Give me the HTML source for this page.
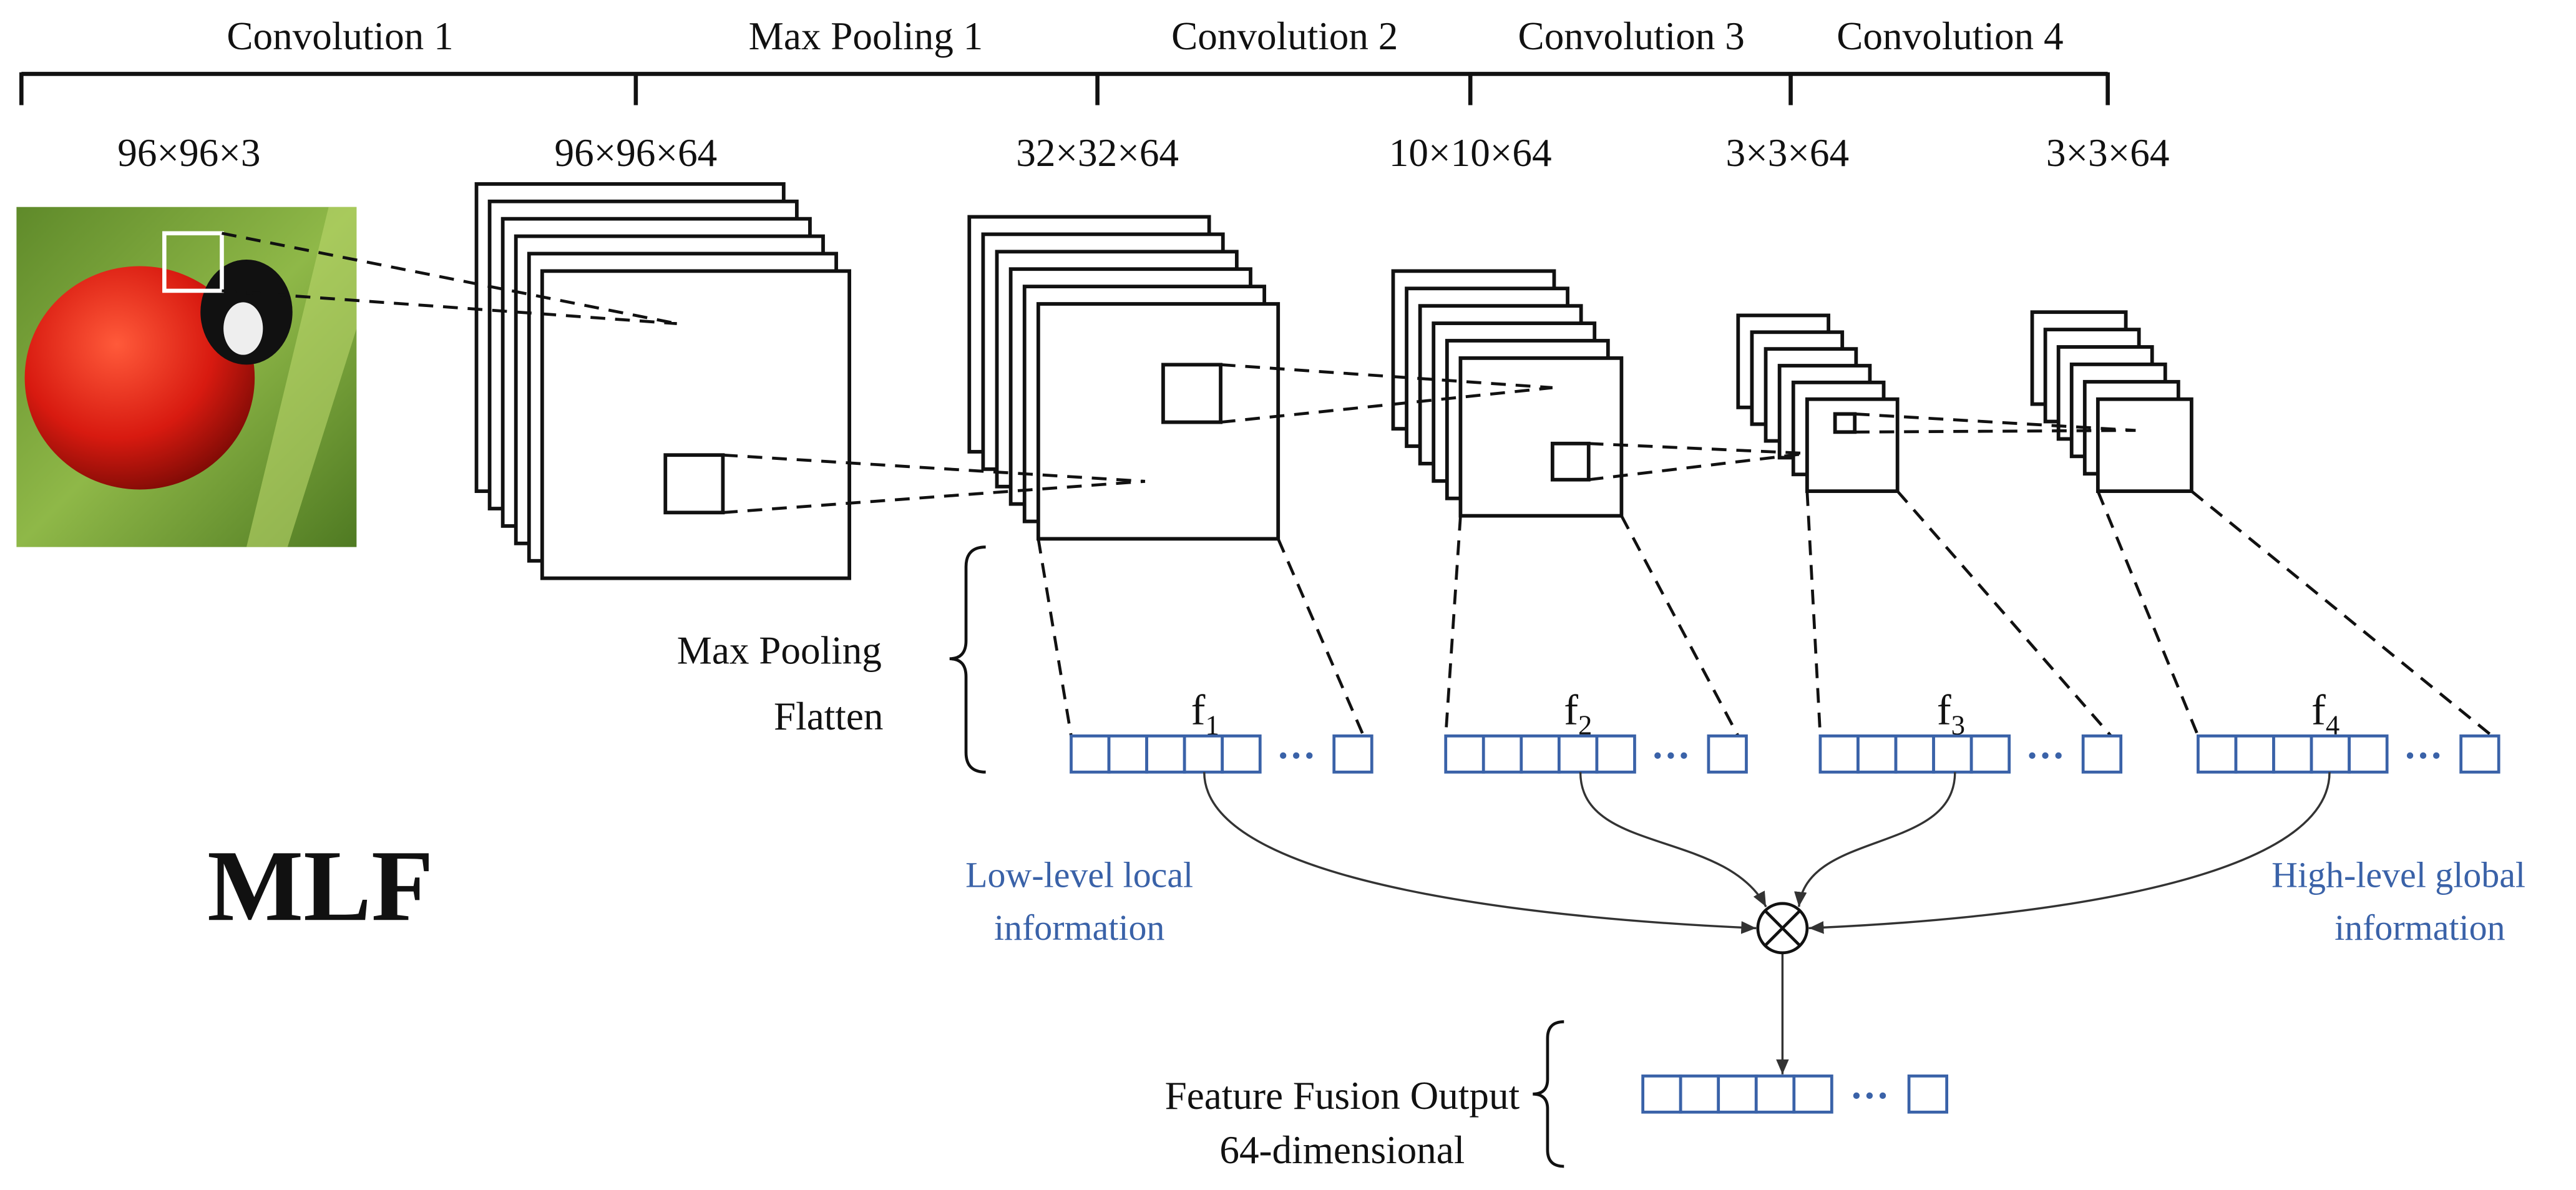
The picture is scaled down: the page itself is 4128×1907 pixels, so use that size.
<!DOCTYPE html>
<html><head><meta charset="utf-8"><style>
html,body{margin:0;padding:0;background:#fff;}
svg{display:block;}
text{font-family:"Liberation Serif",serif;fill:#111;}
.b{fill:#3a62a8;}
</style></head><body>
<svg width="4128" height="1907" viewBox="0 0 1568 724.4" xmlns="http://www.w3.org/2000/svg">
<defs>
<radialGradient id="bug" cx="0.4" cy="0.35" r="0.7"><stop offset="0" stop-color="#ff5a3a"/><stop offset="0.6" stop-color="#d81a10"/><stop offset="1" stop-color="#7a0a05"/></radialGradient>
<linearGradient id="leaf" x1="0" y1="0" x2="1" y2="1"><stop offset="0" stop-color="#5f8a2a"/><stop offset="0.5" stop-color="#8fb848"/><stop offset="1" stop-color="#4f7a22"/></linearGradient>
<marker id="ah" markerWidth="8" markerHeight="8" refX="7" refY="4" orient="auto"><path d="M0,1 L7,4 L0,7 z" fill="#333"/></marker>
</defs>
<!-- top bracket -->
<g stroke="#111" stroke-width="2.5" fill="none">
<line x1="13" y1="45" x2="1283" y2="45"/>
<line x1="13" y1="44" x2="13" y2="64"/><line x1="387" y1="44" x2="387" y2="64"/>
<line x1="668" y1="44" x2="668" y2="64"/><line x1="895" y1="44" x2="895" y2="64"/>
<line x1="1090" y1="44" x2="1090" y2="64"/><line x1="1283" y1="44" x2="1283" y2="64"/>
</g>
<g font-size="24" text-anchor="middle">
<text x="207" y="30">Convolution 1</text><text x="527" y="30">Max Pooling 1</text>
<text x="782" y="30">Convolution 2</text><text x="993" y="30">Convolution 3</text>
<text x="1187" y="30">Convolution 4</text>
<text x="115" y="101">96×96×3</text><text x="387" y="101">96×96×64</text>
<text x="668" y="101">32×32×64</text><text x="895" y="101">10×10×64</text>
<text x="1088" y="101">3×3×64</text><text x="1283" y="101">3×3×64</text>
</g>
<!-- image -->
<rect x="10" y="126" width="207" height="207" fill="url(#leaf)"/>
<path d="M150,333 L200,126 L217,126 L217,200 L175,333z" fill="#b9d66a" opacity="0.6"/>
<ellipse cx="85" cy="230" rx="70" ry="68" fill="url(#bug)"/>
<ellipse cx="150" cy="190" rx="28" ry="32" fill="#111"/>
<ellipse cx="148" cy="200" rx="12" ry="16" fill="#eee"/>
<rect x="100" y="142" width="35" height="35" fill="none" stroke="#fff" stroke-width="2.5"/>
<!-- stacks -->
<g fill="#fff" stroke="#111" stroke-width="2.2">
<rect x="290" y="112" width="187" height="187"/><rect x="298" y="122.6" width="187" height="187"/><rect x="306" y="133.2" width="187" height="187"/><rect x="314" y="143.8" width="187" height="187"/><rect x="322" y="154.4" width="187" height="187"/><rect x="330" y="165" width="187" height="187"/>
<rect x="590" y="132" width="146" height="143"/><rect x="598.4" y="142.6" width="146" height="143"/><rect x="606.8" y="153.2" width="146" height="143"/><rect x="615.2" y="163.8" width="146" height="143"/><rect x="623.6" y="174.4" width="146" height="143"/><rect x="632" y="185" width="146" height="143"/>
<rect x="848" y="165" width="98" height="96"/><rect x="856.2" y="175.6" width="98" height="96"/><rect x="864.4" y="186.2" width="98" height="96"/><rect x="872.6" y="196.8" width="98" height="96"/><rect x="880.8" y="207.4" width="98" height="96"/><rect x="889" y="218" width="98" height="96"/>
<rect x="1058" y="192" width="55" height="56"/><rect x="1066.4" y="202.2" width="55" height="56"/><rect x="1074.8" y="212.4" width="55" height="56"/><rect x="1083.2" y="222.6" width="55" height="56"/><rect x="1091.6" y="232.8" width="55" height="56"/><rect x="1100" y="243" width="55" height="56"/>
<rect x="1237" y="190" width="57" height="56"/><rect x="1245" y="200.6" width="57" height="56"/><rect x="1253" y="211.2" width="57" height="56"/><rect x="1261" y="221.8" width="57" height="56"/><rect x="1269" y="232.4" width="57" height="56"/><rect x="1277" y="243" width="57" height="56"/>
</g>
<g fill="none" stroke="#111" stroke-width="2.2">
<rect x="405" y="277" width="35" height="35"/><rect x="708" y="222" width="35" height="35"/>
<rect x="945" y="270" width="22" height="22"/><rect x="1117" y="252" width="12" height="11"/>
</g>
<!-- dashed lines -->
<g stroke="#111" stroke-width="1.8" stroke-dasharray="9,6" fill="none">
<path d="M135,142 L412,197 M135,177 L412,197"/>
<path d="M440,277 L697,293 M440,312 L697,293"/>
<path d="M743,222 L945,236 M743,257 L945,236"/>
<path d="M967,270 L1100,276 M967,292 L1100,276"/>
<path d="M1129,252 L1300,262 M1129,263 L1300,262"/>
<path d="M632,328 L652,448 M778,328 L830,448"/>
<path d="M889,314 L880,448 M987,314 L1058,448"/>
<path d="M1100,299 L1108,448 M1155,299 L1285,448"/>
<path d="M1277,299 L1338,448 M1334,299 L1517,448"/>
</g>
<!-- vectors -->
<g fill="#fff" stroke="#3a62a8" stroke-width="1.8">
<rect x="652" y="448" width="23" height="22"/><rect x="675" y="448" width="23" height="22"/><rect x="698" y="448" width="23" height="22"/><rect x="721" y="448" width="23" height="22"/><rect x="744" y="448" width="23" height="22"/><rect x="812" y="448" width="23" height="22"/>
<rect x="880" y="448" width="23" height="22"/><rect x="903" y="448" width="23" height="22"/><rect x="926" y="448" width="23" height="22"/><rect x="949" y="448" width="23" height="22"/><rect x="972" y="448" width="23" height="22"/><rect x="1040" y="448" width="23" height="22"/>
<rect x="1108" y="448" width="23" height="22"/><rect x="1131" y="448" width="23" height="22"/><rect x="1154" y="448" width="23" height="22"/><rect x="1177" y="448" width="23" height="22"/><rect x="1200" y="448" width="23" height="22"/><rect x="1268" y="448" width="23" height="22"/>
<rect x="1338" y="448" width="23" height="22"/><rect x="1361" y="448" width="23" height="22"/><rect x="1384" y="448" width="23" height="22"/><rect x="1407" y="448" width="23" height="22"/><rect x="1430" y="448" width="23" height="22"/><rect x="1498" y="448" width="23" height="22"/>
<rect x="1000" y="655" width="23" height="22"/><rect x="1023" y="655" width="23" height="22"/><rect x="1046" y="655" width="23" height="22"/><rect x="1069" y="655" width="23" height="22"/><rect x="1092" y="655" width="23" height="22"/><rect x="1162" y="655" width="23" height="22"/>
</g>
<g font-size="24" class="b" font-weight="bold">
<text x="777" y="468" class="b">···</text><text x="1005" y="468" class="b">···</text>
<text x="1233" y="468" class="b">···</text><text x="1463" y="468" class="b">···</text>
<text x="1126" y="675" class="b">···</text>
</g>
<g font-size="26">
<text x="725" y="441">f<tspan font-size="17" dy="6">1</tspan></text>
<text x="952" y="441">f<tspan font-size="17" dy="6">2</tspan></text>
<text x="1179" y="441">f<tspan font-size="17" dy="6">3</tspan></text>
<text x="1407" y="441">f<tspan font-size="17" dy="6">4</tspan></text>
</g>
<!-- curves -->
<g fill="none" stroke="#333" stroke-width="1.3">
<path d="M733,470 C733,540 950,560 1069,565" marker-end="url(#ah)"/>
<path d="M962,470 C962,520 1050,505 1075,552" marker-end="url(#ah)"/>
<path d="M1190,470 C1190,520 1100,505 1095,552" marker-end="url(#ah)"/>
<path d="M1418,470 C1418,540 1220,560 1101,565" marker-end="url(#ah)"/>
<path d="M1085,580 L1085,654" marker-end="url(#ah)"/>
</g>
<circle cx="1085" cy="565" r="15" fill="#fff" stroke="#111" stroke-width="1.8"/>
<path d="M1074.4,554.4 L1095.6,575.6 M1095.6,554.4 L1074.4,575.6" stroke="#111" stroke-width="1.8"/>
<!-- braces -->
<path d="M600,333 Q588,333 588,345 L588,390 Q588,401 578,401 Q588,401 588,412 L588,458 Q588,470 600,470" fill="none" stroke="#111" stroke-width="1.8"/>
<path d="M952,622 Q942,622 942,632 L942,657 Q942,666 933,666 Q942,666 942,675 L942,700 Q942,710 952,710" fill="none" stroke="#111" stroke-width="1.8"/>
<g font-size="24">
<text x="412" y="404">Max Pooling</text><text x="471" y="444">Flatten</text>
<text x="817" y="675" text-anchor="middle">Feature Fusion Output</text>
<text x="817" y="708" text-anchor="middle">64-dimensional</text>
</g>
<text x="195" y="560" font-size="62" font-weight="bold" text-anchor="middle">MLF</text>
<g font-size="22" text-anchor="middle">
<text x="657" y="540" class="b">Low-level local</text><text x="657" y="572" class="b">information</text>
<text x="1460" y="540" class="b">High-level global</text><text x="1473" y="572" class="b">information</text>
</g>
</svg>
</body></html>
